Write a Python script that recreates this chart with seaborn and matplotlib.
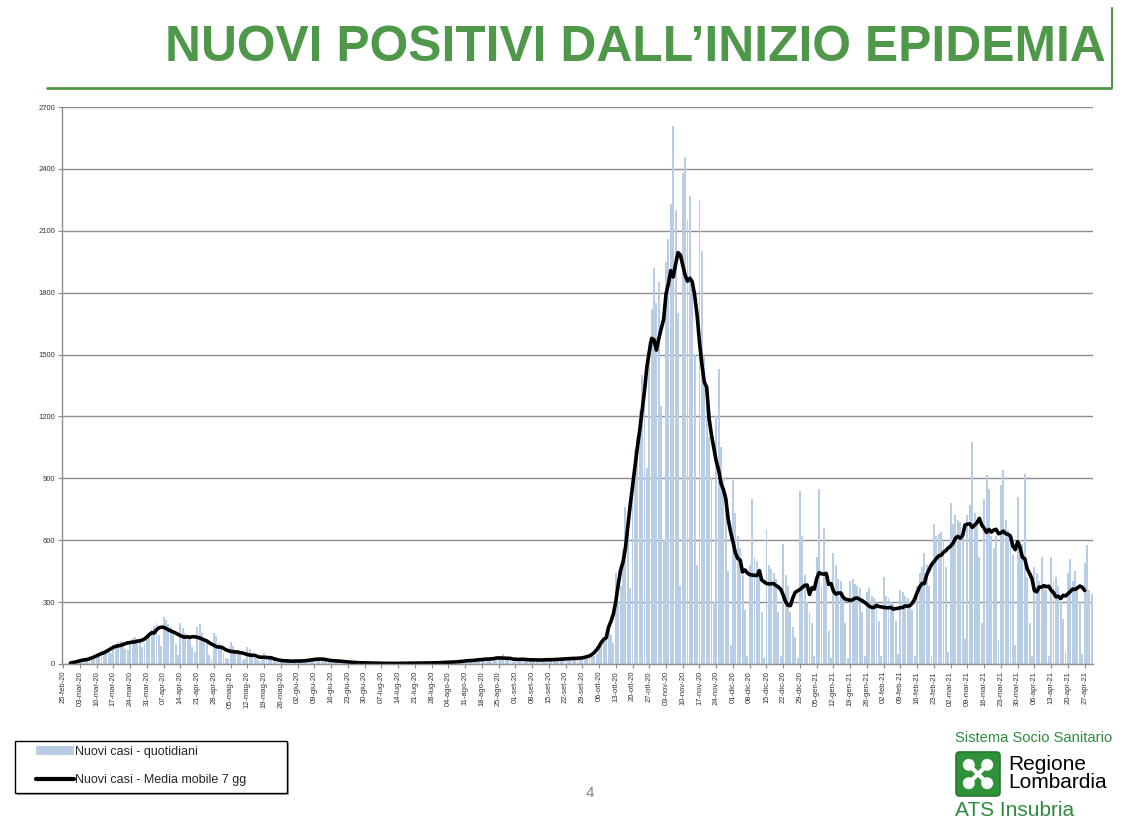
import numpy as np
import pandas as pd
import matplotlib
matplotlib.use("Agg")
import matplotlib.pyplot as plt
import seaborn as sns
from matplotlib.patches import Patch, FancyBboxPatch, Circle, Rectangle
from matplotlib.lines import Line2D

# nuovi casi giornalieri (una riga = una settimana, mar -> lun)
casi_feb_mag_2020 = [
    0, 1, 2, 4, 6, 8, 12,
    15, 18, 22, 26, 30, 20, 23,
    40, 48, 55, 62, 70, 58, 52,
    80, 95, 105, 110, 98, 75, 70,
    110, 125, 130, 120, 115, 80, 95,
    120, 150, 170, 185, 200, 140, 85,
    230, 215, 195, 180, 160, 95, 45,
    200, 175, 150, 140, 120, 80, 60,
    180, 195, 150, 120, 100, 45, 25,
    150, 135, 100, 80, 55, 30, 25,
    108, 85, 70, 55, 45, 20, 25,
    82, 75, 45, 30, 25, 15, 20,
    55, 45, 38, 30, 20, 12, 10,
    25, 22, 18, 15, 10, 8, 7,
]
casi_giu_set_2020 = [
    20, 18, 22, 15, 12, 10, 14,
    28, 30, 35, 25, 20, 14, 16,
    20, 18, 16, 14, 12, 10, 15,
    10, 9, 8, 6, 5, 4, 7,
    6, 5, 6, 4, 5, 3, 4,
    3, 4, 3, 2, 4, 2, 3,
    3, 2, 4, 3, 3, 2, 4,
    4, 5, 3, 6, 4, 2, 4,
    6, 7, 5, 8, 6, 4, 6,
    9, 11, 12, 10, 12, 7, 9,
    15, 18, 20, 22, 17, 12, 15,
    22, 28, 30, 25, 28, 18, 17,
    30, 35, 48, 30, 26, 15, 12,
    28, 30, 26, 24, 22, 15, 16,
    22, 24, 20, 22, 18, 12, 15,
    25, 28, 24, 22, 20, 16, 19,
    30, 32, 28, 30, 26, 18, 25,
    32, 35, 34, 38, 45, 40, 50,
]
# 6 ottobre 2020 -> 4 gennaio 2021
casi_ott_dic_2020 = [
    80, 100, 130, 150, 190, 140, 100,
    440, 300, 380, 560, 760, 640, 370,
    900, 1040, 1100, 1230, 1400, 1300, 950,
    1560, 1720, 1920, 1750, 1850, 1250, 600,
    1950, 2060, 2230, 2610, 2200, 1700, 380,
    2380, 2460, 2150, 2270, 1850, 1500, 480,
    2250, 2000, 1490, 1350, 1100, 900, 300,
    1200, 1430, 1050, 900, 800, 450, 90,
    890, 730, 620, 560, 430, 260, 40,
    480, 800, 520, 500, 420, 250, 30,
    650, 480, 460, 440, 410, 250, 40,
    580, 430, 380, 250, 180, 130, 30,
    840, 620, 430, 300, 250, 200, 40,
]
# 5 gennaio 2021 -> 30 aprile 2021
casi_gen_apr_2021 = [
    520, 850, 380, 660, 450, 160, 30,
    540, 480, 410, 400, 350, 200, 30,
    400, 410, 390, 380, 370, 250, 40,
    350, 370, 330, 320, 300, 210, 40,
    420, 330, 320, 300, 290, 210, 50,
    360, 350, 330, 320, 300, 260, 40,
    380, 440, 470, 540, 480, 380, 40,
    680, 620, 630, 640, 590, 470, 60,
    780, 680, 720, 700, 690, 640, 120,
    720, 770, 1075, 730, 700, 520, 200,
    800, 915, 850, 620, 560, 620, 110,
    870, 940, 700, 650, 620, 530, 90,
    810, 600, 580, 920, 420, 200, 40,
    470, 440, 400, 520, 380, 360, 40,
    520, 400, 420, 380, 300, 220, 60,
    440, 510, 400, 450, 380, 300, 50,
    490, 575, 360, 340,
]

data_inizio = "2020-02-25"
mesi_it = ["gen", "feb", "mar", "apr", "mag", "giu",
           "lug", "ago", "set", "ott", "nov", "dic"]
tick_y = [0, 300, 600, 900, 1200, 1500, 1800, 2100, 2400, 2700]
etichette_legenda = ["Nuovi casi - quotidiani", "Nuovi casi - Media mobile 7 gg"]

verde = "#4F984A"
colore_barre = "#B9CDE5"

casi = casi_feb_mag_2020 + casi_giu_set_2020 + casi_ott_dic_2020 + casi_gen_apr_2021
df = pd.DataFrame({
    "data": pd.date_range(data_inizio, periods=len(casi), freq="D"),
    "casi": casi,
})
df["giorno"] = np.arange(len(df))
df["media"] = df["casi"].rolling(7, center=True).mean()

sns.set_theme(style="white")
plt.rcParams["font.family"] = ["Liberation Sans Narrow", "Liberation Sans", "DejaVu Sans"]

fig = plt.figure(figsize=(11.31, 8.27), dpi=100)
ax = fig.add_axes([62 / 1131, 1 - 664 / 827, (1093 - 62) / 1131, (664 - 107) / 827])

sns.barplot(data=df, x="giorno", y="casi", native_scale=True, color=colore_barre,
            saturation=1, width=0.8, linewidth=0, errorbar=None, ax=ax)
sns.lineplot(data=df.dropna(), x="giorno", y="media", color="black", linewidth=2.6, ax=ax)

ax.set_xlim(-0.5, len(df) - 0.5)
ax.set_ylim(0, 2700)
ax.set_yticks(tick_y)
ax.set_yticklabels([str(v) for v in tick_y])
sett = df.iloc[::7]
ax.set_xticks(sett["giorno"])
ax.set_xticklabels([f"{d.day:02d}-{mesi_it[d.month - 1]}-{d:%y}" for d in sett["data"]],
                   rotation=90)
ax.set_xlabel("")
ax.set_ylabel("")

ax.yaxis.grid(True, color="#8C8C8C", linewidth=1.0)
ax.set_axisbelow(True)
for lato in ["top", "right"]:
    ax.spines[lato].set_visible(False)
for lato in ["left", "bottom"]:
    ax.spines[lato].set_color("#8C8C8C")
    ax.spines[lato].set_linewidth(1.0)
ax.tick_params(axis="both", bottom=True, left=True, direction="out", length=3,
               width=0.8, color="#8C8C8C", labelsize=5.5, labelcolor="#333333", pad=2)

# titolo e riga verde
titolo = fig.text(1106 / 1131, 1 - 48 / 827, "NUOVI POSITIVI DALL’INIZIO EPIDEMIA",
                  ha="right", va="center", color=verde, fontsize=40, fontweight="bold")
r = fig.canvas.get_renderer()
larghezza = titolo.get_window_extent(r).width
titolo.set_fontsize(40 * 938 / larghezza)
fig.add_artist(Line2D([47 / 1131, 1111 / 1131], [1 - 88 / 827] * 2, color=verde, linewidth=2))
fig.add_artist(Line2D([1112 / 1131] * 2, [1 - 8 / 827, 1 - 88 / 827], color=verde, linewidth=1.5))

# legenda: cornice con ombra e voci
fig.add_artist(Rectangle((17 / 1131, 1 - 795 / 827), 272 / 1131, 52 / 827,
                         transform=fig.transFigure, facecolor="#A6A6A6", edgecolor="none"))
fig.add_artist(Rectangle((15 / 1131, 1 - 793 / 827), 272 / 1131, 52 / 827,
                         transform=fig.transFigure, facecolor="white", edgecolor="black",
                         linewidth=1.0))
maniglie = [Patch(facecolor=colore_barre, edgecolor="none"),
            Line2D([], [], color="black", linewidth=3)]
leg = fig.legend(maniglie, etichette_legenda, loc="center left",
                 bbox_to_anchor=(36 / 1131, 1 - 766 / 827), frameon=False,
                 fontsize=9, handlelength=3.0, handletextpad=0.1, labelspacing=1.3,
                 borderpad=0, borderaxespad=0)

# numero pagina
fig.text(590 / 1131, 1 - 793 / 827, "4", ha="center", va="center", color="#7F7F7F", fontsize=11)

# logo Regione Lombardia / ATS Insubria
fig.text(955 / 1131, 1 - 738 / 827, "Sistema Socio Sanitario", ha="left", va="center",
         color="#2E8B3E", fontsize=10.6)
fig.text(1008 / 1131, 1 - 765 / 827, "Regione", ha="left", va="center",
         color="black", fontsize=15, family=["Liberation Sans", "DejaVu Sans"])
fig.text(1008 / 1131, 1 - 783 / 827, "Lombardia", ha="left", va="center",
         color="black", fontsize=15, family=["Liberation Sans", "DejaVu Sans"])
fig.text(955 / 1131, 1 - 810 / 827, "ATS Insubria", ha="left", va="center",
         color="#2E8B3E", fontsize=15)

lax = fig.add_axes([955 / 1131, 1 - 797 / 827, 46 / 1131, 46 / 827])
lax.set_xlim(0, 1)
lax.set_ylim(0, 1)
lax.axis("off")
lax.add_patch(FancyBboxPatch((0.02, 0.02), 0.96, 0.96, boxstyle="round,pad=0,rounding_size=0.08",
                             facecolor="#2F9138", edgecolor="#1F6E2A", linewidth=1))
for cx, cy in [(0.3, 0.3), (0.7, 0.3), (0.3, 0.7), (0.7, 0.7)]:
    lax.add_patch(Circle((cx, cy), 0.13, facecolor="white", edgecolor="none"))
lax.plot([0.3, 0.7], [0.3, 0.7], color="white", linewidth=3)
lax.plot([0.3, 0.7], [0.7, 0.3], color="white", linewidth=3)

fig.savefig("out.png", dpi=100)
